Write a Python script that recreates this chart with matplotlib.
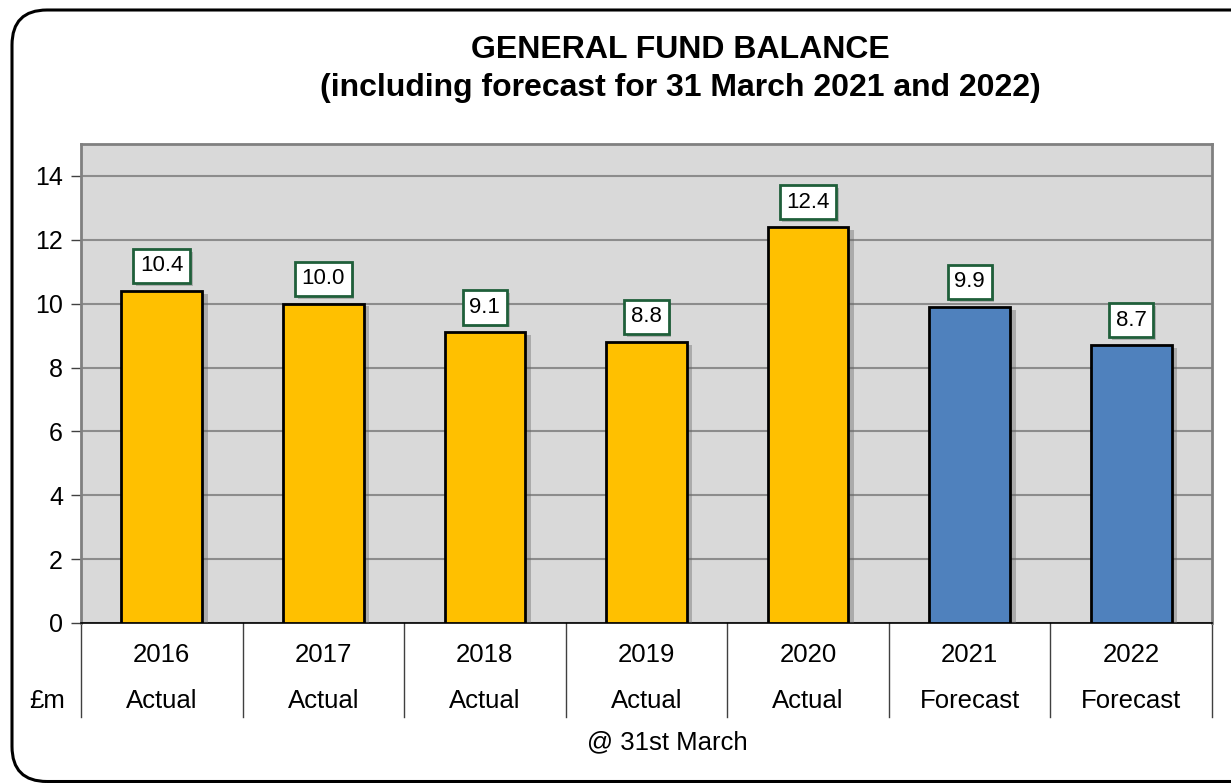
import numpy as np
import matplotlib.pyplot as plt
import matplotlib.patheffects as pe
from matplotlib.patches import FancyBboxPatch

plt.rcParams['font.family'] = ['Liberation Sans', 'DejaVu Sans']

years = ['2016', '2017', '2018', '2019', '2020', '2021', '2022']
kinds = ['Actual', 'Actual', 'Actual', 'Actual', 'Actual', 'Forecast', 'Forecast']
values = [10.4, 10.0, 9.1, 8.8, 12.4, 9.9, 8.7]
kind_colors = {'Actual': '#FFC000', 'Forecast': '#4F81BD'}

fig = plt.figure(figsize=(12.31, 7.83), dpi=100)

# rounded outer frame, runs off the right edge, bottom sits at the image edge
frame = FancyBboxPatch((0.12, 0.015), 14.0, 7.73 - 0.015, boxstyle="round,pad=0,rounding_size=0.35",
                       transform=fig.dpi_scale_trans, fill=False, ec='black', lw=2.2)
fig.patches.append(frame)

ax = fig.add_axes([81 / 1231, (783 - 623) / 783, (1212 - 81) / 1231, (623 - 144) / 783])
ax.set_facecolor('#D9D9D9')

x = np.arange(len(years))
cols = [kind_colors[k] for k in kinds]
bars = ax.bar(x, values, width=0.5, color=cols, edgecolor='black', linewidth=2, zorder=3)
for b in bars:
    b.set_path_effects([pe.SimplePatchShadow(offset=(4, -2), shadow_rgbFace='#666666', alpha=0.4), pe.Normal()])

for xi, v in zip(x, values):
    t = ax.annotate(f'{v:.1f}', (xi, v), xytext=(0, 18), textcoords='offset points',
                    ha='center', va='center', fontsize=16, zorder=5,
                    bbox=dict(boxstyle='square,pad=0.3', fc='white', ec='#1F5F3A', lw=2))
    t.get_bbox_patch().set_path_effects([pe.SimplePatchShadow(offset=(2, -2), alpha=0.3), pe.Normal()])

ax.set_xlim(-0.5, len(years) - 0.5)
ax.set_ylim(0, 15)
ax.set_yticks(np.arange(0, 15, 2))
ax.tick_params(axis='y', labelsize=18, length=7, width=1, color='#404040', pad=6)
ax.set_xticks([])
ax.grid(axis='y', color='#8C8C8C', lw=1.5, zorder=1)
for s in ['top', 'right', 'left']:
    ax.spines[s].set_color('#808080')
    ax.spines[s].set_linewidth(2)
ax.spines['bottom'].set_color('black')
ax.spines['bottom'].set_linewidth(1.2)

trans = ax.get_xaxis_transform()
for xi, yr, k in zip(x, years, kinds):
    ax.text(xi, -0.067, yr, transform=trans, ha='center', va='center', fontsize=18.5)
    ax.text(xi, -0.163, k, transform=trans, ha='center', va='center', fontsize=18.5)
for xb in np.arange(-0.5, len(years), 1.0):
    ax.plot([xb, xb], [0, -0.196], transform=trans, color='#404040', lw=1, clip_on=False)
ax.text(-0.03, -0.163, '£m', transform=ax.transAxes, ha='center', va='center', fontsize=18.5)
ax.text(0.518, -0.25, '@ 31st March', transform=ax.transAxes, ha='center', va='center', fontsize=18.5)

fig.text(680 / 1231, 1 - 50 / 783, 'GENERAL FUND BALANCE', ha='center', va='center',
         fontsize=23, fontweight='bold')
fig.text(680 / 1231, 1 - 88 / 783, '(including forecast for 31 March 2021 and 2022)', ha='center',
         va='center', fontsize=23, fontweight='bold')

fig.savefig('out.png', dpi=100)
